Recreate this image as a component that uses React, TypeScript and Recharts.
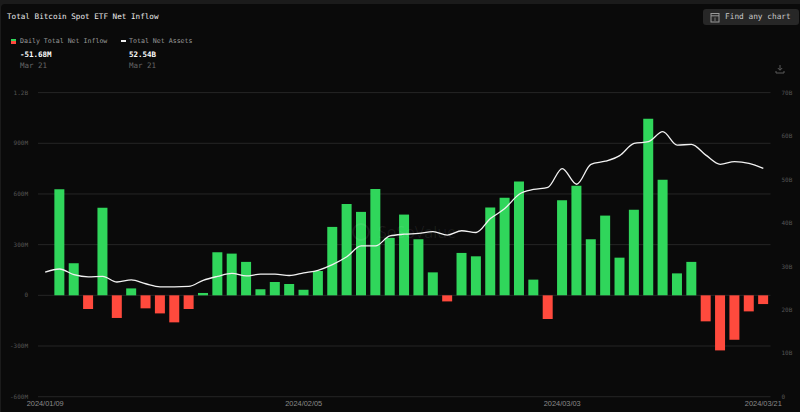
import { Bar, CartesianGrid, Cell, ComposedChart, Line, XAxis, YAxis } from "recharts"

const dates = [
  "2024/01/09", "2024/01/10", "2024/01/11", "2024/01/12", "2024/01/16", "2024/01/17", "2024/01/18", "2024/01/19",
  "2024/01/22", "2024/01/23", "2024/01/24", "2024/01/25", "2024/01/26", "2024/01/29", "2024/01/30", "2024/01/31",
  "2024/02/01", "2024/02/02", "2024/02/05", "2024/02/06", "2024/02/07", "2024/02/08", "2024/02/09", "2024/02/12",
  "2024/02/13", "2024/02/14", "2024/02/15", "2024/02/16", "2024/02/20", "2024/02/21", "2024/02/22", "2024/02/23",
  "2024/02/26", "2024/02/27", "2024/02/28", "2024/02/29", "2024/03/03", "2024/03/04", "2024/03/05", "2024/03/06",
  "2024/03/07", "2024/03/08", "2024/03/11", "2024/03/12", "2024/03/13", "2024/03/14", "2024/03/15", "2024/03/18",
  "2024/03/19", "2024/03/20", "2024/03/21",
]

// daily flow in millions
const inflow = [
  0, 628, 190, -81, 518, -134, 41, -77, -107, -160, -81, 14, 255, 247, 198, 36, 79, 67, 33, 144, 405, 541, 494, 630,
  340, 478, 332, 136, -36, 251, 231, 520, 577, 674, 93, -140, 563, 648, 332, 472, 223, 506, 1045, 684, 130, 198,
  -154, -326, -263, -95, -51.68,
]

// total assets in billions
const assets = [
  28.7, 29.4, 28.1, 27.6, 27.7, 26.4, 26.9, 26.0, 25.3, 25.3, 25.4, 26.8, 27.7, 28.4, 27.8, 28.2, 28.2, 27.9, 28.5,
  29.1, 30.4, 32.2, 34.7, 34.7, 37.0, 37.4, 37.6, 38.0, 37.2, 38.2, 37.8, 41.0, 43.3, 46.6, 47.7, 48.2, 52.5, 48.9,
  53.5, 54.2, 55.5, 58.3, 58.7, 61.0, 57.9, 58.1, 55.6, 53.5, 54.1, 53.7, 52.54,
]

const xTicks = ["2024/01/09", "2024/02/05", "2024/03/03", "2024/03/21"]
const leftTicks = [-600, -300, 0, 300, 600, 900, 1200]
const rightTicks = [0, 10, 20, 30, 40, 50, 60, 70]

const data = dates.map((date, i) => ({ date, inflow: inflow[i], assets: assets[i] }))

const GREEN = "#30d65b"
const RED = "#ff4a3d"
const mono = "'DejaVu Sans Mono', monospace"

const fmtLeft = (v: number) => {
  if (v === 0) return "0"
  return Math.abs(v) >= 1000 ? `${v / 1000}B` : `${v}M`
}
const fmtRight = (v: number) => (v === 0 ? "0" : `${v}B`)

const label = (left: number, top: number, size: number, color: string, bold = false): React.CSSProperties => ({
  position: "absolute",
  left,
  top,
  fontSize: size,
  lineHeight: "10px",
  color,
  fontWeight: bold ? 700 : 400,
  whiteSpace: "pre",
})

export default function App() {
  return (
    <div style={{ position: "absolute", left: 0, top: 0, width: 800, height: 412, background: "#1b1b1b", overflow: "hidden", fontFamily: mono }}>
      <div style={{ position: "absolute", left: 1, top: 4, width: 799, height: 408, background: "#0a0a0a", borderRadius: "4px 0 0 0" }} />

      <ComposedChart
        width={800}
        height={412}
        data={data}
        margin={{ top: 92.6, right: 0, bottom: 0, left: 0 }}
        barCategoryGap={0}
        style={{ position: "absolute", left: 0, top: 0 }}
      >
        <CartesianGrid yAxisId="left" vertical={false} stroke="#262626" strokeWidth={1} />
        <XAxis
          dataKey="date"
          ticks={xTicks}
          interval={0}
          height={15.3}
          axisLine={false}
          tickLine={false}
          tickMargin={1}
          tick={{ fontSize: 7.4, fill: "#8a8a8a", fontFamily: "'Liberation Sans', sans-serif", dy: -3 }}
        />
        <YAxis
          yAxisId="left"
          width={38}
          domain={[-600, 1200]}
          ticks={leftTicks}
          tickFormatter={fmtLeft}
          axisLine={false}
          tickLine={false}
          tickMargin={4}
          tick={{ fontSize: 6, fill: "#555", fontFamily: mono }}
        />
        <YAxis
          yAxisId="right"
          orientation="right"
          width={29.5}
          domain={[0, 70]}
          ticks={rightTicks}
          tickFormatter={fmtRight}
          axisLine={false}
          tickLine={false}
          tickMargin={5}
          tick={{ fontSize: 6, fill: "#555", fontFamily: mono }}
        />
        <Bar yAxisId="left" dataKey="inflow" barSize={10} isAnimationActive={false}>
          {data.map((d) => (
            <Cell key={d.date} fill={d.inflow < 0 ? RED : GREEN} />
          ))}
        </Bar>
        <Line
          yAxisId="right"
          dataKey="assets"
          type="monotone"
          stroke="#f2f2f2"
          strokeWidth={1.3}
          dot={false}
          activeDot={false}
          isAnimationActive={false}
        />
      </ComposedChart>

      {/* watermark */}
      <svg width={20} height={20} style={{ position: "absolute", left: 351, top: 222 }}>
        <circle cx={10} cy={10} r={8} fill="none" stroke="rgba(255,255,255,0.07)" strokeWidth={2} />
      </svg>
      <div style={{ ...label(378, 227, 16, "rgba(255,255,255,0.07)"), fontFamily: "'Open Sans', sans-serif" }}>SoSoValue</div>

      {/* header */}
      <div style={label(7, 12, 7.64, "#ececec")}>Total Bitcoin Spot ETF Net Inflow</div>
      <div style={{ position: "absolute", left: 11, top: 38.5, width: 4.5, height: 2.5, background: GREEN }} />
      <div style={{ position: "absolute", left: 11, top: 41, width: 4.5, height: 2.5, background: RED }} />
      <div style={label(20, 36, 6.6, "#9a9a9a")}>Daily Total Net Inflow</div>
      <div style={{ position: "absolute", left: 121, top: 40.2, width: 4.5, height: 1.5, background: "#eee" }} />
      <div style={label(129, 36, 6.6, "#9a9a9a")}>Total Net Assets</div>
      <div style={label(20, 50, 7.5, "#fff", true)}>-51.68M</div>
      <div style={label(129, 50, 7.5, "#fff", true)}>52.54B</div>
      <div style={label(20, 60.5, 7.5, "#666")}>Mar 21</div>
      <div style={label(129, 60.5, 7.5, "#666")}>Mar 21</div>

      {/* search button */}
      <div style={{ position: "absolute", left: 703, top: 9, width: 96, height: 16, background: "#272727", borderRadius: 3 }} />
      <svg width={10} height={11} style={{ position: "absolute", left: 710, top: 12 }}>
        <rect x={1} y={1.5} width={8} height={8.5} fill="none" stroke="#999" strokeWidth={1} />
        <line x1={1} y1={3.8} x2={9} y2={3.8} stroke="#999" strokeWidth={1} />
        <line x1={5} y1={5.5} x2={5} y2={9} stroke="#777" strokeWidth={1} />
      </svg>
      <div style={label(725, 12, 7.8, "#c8c8c8")}>Find any chart</div>

      {/* download icon */}
      <svg width={10} height={10} style={{ position: "absolute", left: 774.5, top: 64 }}>
        <path d="M5 1V6M2.8 4L5 6.3L7.2 4M1 7V9H9V7" fill="none" stroke="#5a5a5a" strokeWidth={1} />
      </svg>
    </div>
  )
}
